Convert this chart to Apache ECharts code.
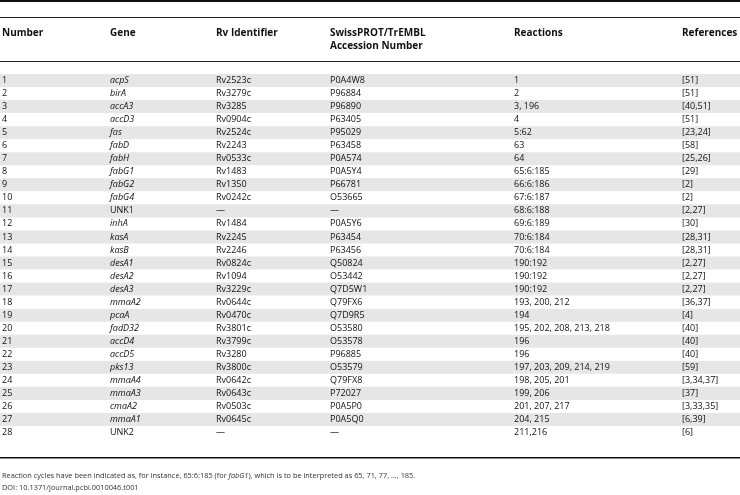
<!DOCTYPE html>
<html><head><meta charset="utf-8">
<script src="https://cdn.jsdelivr.net/npm/echarts@6/dist/echarts.min.js"></script>
<style>html,body{margin:0;padding:0;background:#fff}#c{width:740px;height:495px}</style>
</head><body><div id="c"></div>
<script>
var headers = ['Number','Gene','Rv Identifier','SwissPROT/TrEMBL\nAccession Number','Reactions','References'];
var numbers = ['1','2','3','4','5','6','7','8','9','10','11','12','13','14','15','16','17','18','19','20','21','22','23','24','25','26','27','28'];
var genes = ['acpS','birA','accA3','accD3','fas','fabD','fabH','fabG1','fabG2','fabG4','UNK1','inhA','kasA','kasB','desA1','desA2','desA3','mmaA2','pcaA','fadD32','accD4','accD5','pks13','mmaA4','mmaA3','cmaA2','mmaA1','UNK2'];
var rvIds = ['Rv2523c','Rv3279c','Rv3285','Rv0904c','Rv2524c','Rv2243','Rv0533c','Rv1483','Rv1350','Rv0242c','—','Rv1484','Rv2245','Rv2246','Rv0824c','Rv1094','Rv3229c','Rv0644c','Rv0470c','Rv3801c','Rv3799c','Rv3280','Rv3800c','Rv0642c','Rv0643c','Rv0503c','Rv0645c','—'];
var accessions = ['P0A4W8','P96884','P96890','P63405','P95029','P63458','P0A574','P0A5Y4','P66781','O53665','—','P0A5Y6','P63454','P63456','Q50824','O53442','Q7D5W1','Q79FX6','Q7D9R5','O53580','O53578','P96885','O53579','Q79FX8','P72027','P0A5P0','P0A5Q0','—'];
var reactions = ['1','2','3, 196','4','5:62','63','64','65:6:185','66:6:186','67:6:187','68:6:188','69:6:189','70:6:184','70:6:184','190:192','190:192','190:192','193, 200, 212','194','195, 202, 208, 213, 218','196','196','197, 203, 209, 214, 219','198, 205, 201','199, 206','201, 207, 217','204, 215','211,216'];
var references = ['[51]','[51]','[40,51]','[51]','[23,24]','[58]','[25,26]','[29]','[2]','[2]','[2,27]','[30]','[28,31]','[28,31]','[2,27]','[2,27]','[2,27]','[36,37]','[4]','[40]','[40]','[40]','[59]','[3,34,37]','[37]','[3,33,35]','[6,39]','[6]'];
var footnote1 = 'Reaction cycles have been indicated as, for instance, 65:6:185 (for ';
var footnoteGene = 'fabG1';
var footnote2 = '), which is to be interpreted as 65, 71, 77, ..., 185.';
var footnoteDoi = 'DOI: 10.1371/journal.pcbi.0010046.t001';

var FONT = '"Open Sans", "Noto Sans", sans-serif';
var colX = [2, 110, 216, 330, 514, 682];
var TXT = '#111';

var rowIdx = numbers.map(function (n, i) { return i; });

var chart = echarts.init(document.getElementById('c'), null, {renderer: 'canvas'});
chart.setOption({
  animation: false,
  grid: {left: 0, right: 0, top: 74, height: 365, containLabel: false},
  xAxis: {type: 'value', min: 0, max: 740, show: false},
  yAxis: {type: 'category', data: numbers, inverse: true, show: false, boundaryGap: true},
  graphic: [
    {type: 'rect', shape: {x: 0, y: 0, width: 740, height: 2}, style: {fill: '#111'}},
    {type: 'rect', shape: {x: 0, y: 17, width: 740, height: 1}, style: {fill: '#222'}},
    {type: 'rect', shape: {x: 0, y: 61, width: 740, height: 1}, style: {fill: '#222'}},
    {type: 'rect', shape: {x: 0, y: 457, width: 740, height: 1.5}, style: {fill: '#111'}}
  ].concat(headers.map(function (h, i) {
    return {type: 'text', x: colX[i], y: 27, style: {text: h, font: 'bold 10px ' + FONT, fill: '#111', textVerticalAlign: 'top', lineHeight: 13}};
  })).concat([
    {type: 'text', x: 2, y: 472, style: {
      text: '{n|' + footnote1 + '}{i|' + footnoteGene + '}{n|' + footnote2 + '}',
      rich: {n: {font: '7.4px ' + FONT, fill: '#333'}, i: {font: 'italic 7.4px ' + FONT, fill: '#333'}},
      textVerticalAlign: 'top'}},
    {type: 'text', x: 2, y: 484, style: {text: footnoteDoi, font: '7.4px ' + FONT, fill: '#333', textVerticalAlign: 'top'}}
  ]),
  series: [{
    type: 'custom',
    data: rowIdx,
    renderItem: function (params, api) {
      var i = api.value(0);
      var p = api.coord([0, i]);
      var h = api.size([0, 1])[1];
      var y = p[1];
      var children = [];
      if (i % 2 === 0) {
        children.push({type: 'rect', shape: {x: 0, y: y - h / 2, width: 740, height: h}, style: {fill: '#e6e6e6'}});
      }
      var vals = [numbers[i], genes[i], rvIds[i], accessions[i], reactions[i], references[i]];
      vals.forEach(function (v, c) {
        var italic = (c === 1 && genes[i].indexOf('UNK') !== 0);
        children.push({type: 'text', x: api.coord([colX[c], i])[0], y: y,
          style: {text: v, font: (italic ? 'italic ' : '') + '9px ' + FONT, fill: TXT, textVerticalAlign: 'middle'}});
      });
      return {type: 'group', children: children};
    }
  }]
});
</script>
</body></html>
